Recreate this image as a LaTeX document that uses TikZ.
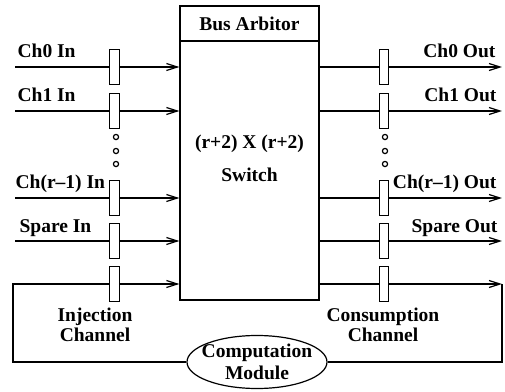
\documentclass[tikz,border=0pt]{standalone}
\usepackage{fontspec}
\setmainfont{Liberation Serif}
\usetikzlibrary{arrows.meta,positioning,shapes.geometric}

\begin{document}
\begin{tikzpicture}[x=0.5pt, y=-0.5pt, line width=0.6pt,
    every node/.style={font=\fontsize{9.75}{11}\selectfont\bfseries},
    buf/.style={draw, fill=white, rectangle, minimum width=4.75pt, minimum height=17.5pt, inner sep=0pt},
    arr/.style={-{Straight Barb[length=5.5pt,width=3.5pt]}},
    dot/.style={draw, circle, minimum size=2.6pt, inner sep=0pt}]
  \useasboundingbox (0,0) rectangle (505,392);

  % switch with arbiter on top
  \node[draw, minimum width=69.5pt, minimum height=147pt, inner sep=0pt] (sw) at (249.5,153) {};
  \node[draw, minimum width=69.5pt, minimum height=17.5pt, inner sep=0pt] (arb) at (249.5,23.5) {Bus Arbitor};
  \node (swa) at (249.5,144) {(r+2) X (r+2)};
  \node (swb) at (249.5,175) {Switch};

  % channel buffers and lines
  \foreach \n/\y in {0/67,1/111,2/198,3/241,4/284} {
    \node[buf] (bl\n) at (114.5,\y) {};
    \node[buf] (br\n) at (384,\y) {};
    \coordinate (sl\n) at (15,\y);
    \coordinate (er\n) at (502,\y);
    \draw[arr] (sl\n) -- (bl\n) -- (bl\n -| sw.west);
    \draw (sw.east |- br\n) -- (br\n);
    \draw[arr] (br\n) -- (er\n);
  }

  % dots
  \foreach \y in {137,151,164} {
    \node[dot] at (116,\y) {};
    \node[dot] at (385,\y) {};
  }

  % channel labels
  \node[anchor=base west, inner sep=0pt] (lin0) at (17,57) {Ch0 In};
  \node[anchor=base west, inner sep=0pt] (lin1) at (17,101) {Ch1 In};
  \node[anchor=base west, inner sep=0pt] (lin2) at (15,188) {Ch(r--1) In};
  \node[anchor=base west, inner sep=0pt] (lin3) at (19,232) {Spare In};
  \node[anchor=base east, inner sep=0pt] (lout0) at (496,57) {Ch0 Out};
  \node[anchor=base east, inner sep=0pt] (lout1) at (497,101) {Ch1 Out};
  \node[anchor=base east, inner sep=0pt] (lout2) at (497,188) {Ch(r--1) Out};
  \node[anchor=base east, inner sep=0pt] (lout3) at (498,232) {Spare Out};
  \node[align=center, font=\fontsize{9.75}{8.7}\selectfont\bfseries] (inj) at (95,325) {Injection\\Channel};
  \node[align=center, font=\fontsize{9.75}{8.7}\selectfont\bfseries] (cons) at (383,325) {Consumption\\Channel};

  % computation module and loop
  \node[draw, ellipse, minimum width=70pt, minimum height=26.5pt, inner sep=0pt] (comp) at (257,362) {};
  \node[align=center, font=\fontsize{9.75}{11}\selectfont\bfseries] (compt) at (comp) {Computation\\Module};
  \coordinate (lp) at (13,284);
  \draw (comp.west) -| (lp) -- (sl4);
  \draw (er4) |- (comp.east);
\end{tikzpicture}
\end{document}
